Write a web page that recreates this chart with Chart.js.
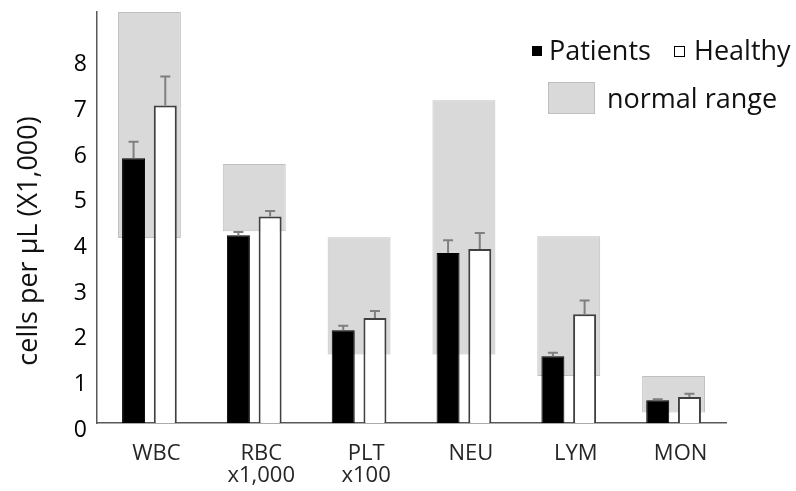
<!DOCTYPE html>
<html lang="en">
<head>
<meta charset="UTF-8">
<title>Blood cell counts</title>
<script src="https://cdn.jsdelivr.net/npm/chart.js"></script>
<style>
  body { margin: 0; background: #fff; }
  #wrap { position: relative; width: 796px; height: 491px; }
  .leg { position: absolute; font-family: "Open Sans", sans-serif; font-size: 27px; color: #111; line-height: 1; white-space: nowrap; }
  .sw { position: absolute; box-sizing: border-box; }
</style>
</head>
<body>
<div id="wrap">
  <canvas id="chart" width="796" height="491"></canvas>
  <div class="sw" style="left:532px;top:46px;width:10px;height:10px;background:#000;"></div>
  <div class="leg" style="left:549px;top:36px;">Patients</div>
  <div class="sw" style="left:674px;top:46px;width:11px;height:11px;border:1px solid #000;background:#fff;"></div>
  <div class="leg" style="left:694px;top:36px;">Healthy</div>
  <div class="sw" style="left:548px;top:82px;width:47px;height:32px;border:1px solid #bfbfbf;background:#d9d9d9;"></div>
  <div class="leg" style="left:607px;top:84px;">normal range</div>
</div>

<script>
    const categories = ['WBC', ['RBC', 'x1,000'], ['PLT', 'x100'], 'NEU', 'LYM', 'MON'];
    const patients = [5.80, 4.11, 2.03, 3.72, 1.46, 0.50];
    const patientsErr = [0.36, 0.07, 0.10, 0.28, 0.08, 0.02];
    const healthy = [6.95, 4.52, 2.30, 3.81, 2.38, 0.57];
    const healthyErr = [0.64, 0.12, 0.15, 0.35, 0.30, 0.07];
    const rangeLow = [4.05, 4.20, 1.50, 1.50, 1.03, 0.23];
    const rangeHigh = [9.00, 5.67, 4.07, 7.07, 4.09, 1.03];
    const yTicks = [0, 1, 2, 3, 4, 5, 6, 7, 8];
    const yTitle = 'cells per µL (X1,000)';

    // error bars (upper only) + rotated y title
    const extras = {
        id: 'extras',
        afterDatasetsDraw(chart) {
            const ctx = chart.ctx;
            const y = chart.scales.y;
            [[0, patientsErr], [1, healthyErr]].forEach(([di, errs]) => {
                const meta = chart.getDatasetMeta(di);
                const vals = chart.data.datasets[di].data;
                meta.data.forEach((bar, i) => {
                    const top = y.getPixelForValue(vals[i] + errs[i]);
                    ctx.save();
                    ctx.strokeStyle = '#7f7f7f';
                    ctx.lineWidth = 2;
                    ctx.beginPath();
                    ctx.moveTo(bar.x, bar.y);
                    ctx.lineTo(bar.x, top);
                    ctx.moveTo(bar.x - 5, top);
                    ctx.lineTo(bar.x + 5, top);
                    ctx.stroke();
                    ctx.restore();
                });
            });
        },
        afterDraw(chart) {
            const ctx = chart.ctx;
            ctx.save();
            ctx.translate(29, 241);
            ctx.rotate(-Math.PI / 2);
            ctx.font = '27px "Open Sans"';
            ctx.fillStyle = '#111';
            ctx.textAlign = 'center';
            ctx.textBaseline = 'middle';
            ctx.fillText(yTitle, 0, 0);
            ctx.restore();
        }
    };

    new Chart(document.getElementById('chart'), {
        type: 'bar',
        data: {
            labels: categories,
            datasets: [
                {
                    label: 'Patients',
                    data: patients,
                    backgroundColor: '#000',
                    borderColor: '#000',
                    borderWidth: 1,
                    categoryPercentage: 0.605,
                    barPercentage: 0.725,
                    order: 0
                },
                {
                    label: 'Healthy',
                    data: healthy,
                    backgroundColor: '#fff',
                    borderColor: '#404040',
                    borderWidth: 2,
                    categoryPercentage: 0.605,
                    barPercentage: 0.725,
                    order: 1
                },
                {
                    label: 'normal range',
                    data: categories.map((c, i) => [rangeLow[i], rangeHigh[i]]),
                    backgroundColor: '#d9d9d9',
                    borderColor: '#bfbfbf',
                    borderWidth: 1,
                    borderSkipped: false,
                    grouped: false,
                    categoryPercentage: 1,
                    barPercentage: 0.6,
                    order: 5
                }
            ]
        },
        options: {
            responsive: false,
            animation: false,
            layout: { padding: { left: 0, right: 70, top: 12, bottom: 0 } },
            plugins: {
                legend: { display: false },
                tooltip: { enabled: false }
            },
            scales: {
                x: {
                    offset: true,
                    grid: { display: false, drawTicks: false },
                    border: { color: '#595959', width: 1.5 },
                    ticks: {
                        font: { family: 'Open Sans', size: 22, lineHeight: 1 },
                        color: '#262626',
                        labelOffset: 7,
                        padding: 20,
                        maxRotation: 0
                    },
                    afterFit: s => { s.height = 68; s.paddingLeft = 0; s.paddingRight = 0; }
                },
                y: {
                    min: 0,
                    max: 9,
                    grid: { display: false, drawTicks: false },
                    border: { color: '#595959', width: 1.5 },
                    afterBuildTicks: s => { s.ticks = yTicks.map(v => ({ value: v })); },
                    ticks: {
                        font: { family: 'Open Sans', size: 23 },
                        color: '#000',
                        padding: 10,
                        labelOffset: 7
                    },
                    afterFit: s => { s.width = 97; s.paddingTop = 0; s.paddingBottom = 0; }
                }
            }
        },
        plugins: [extras]
    });
</script>
</body>
</html>
